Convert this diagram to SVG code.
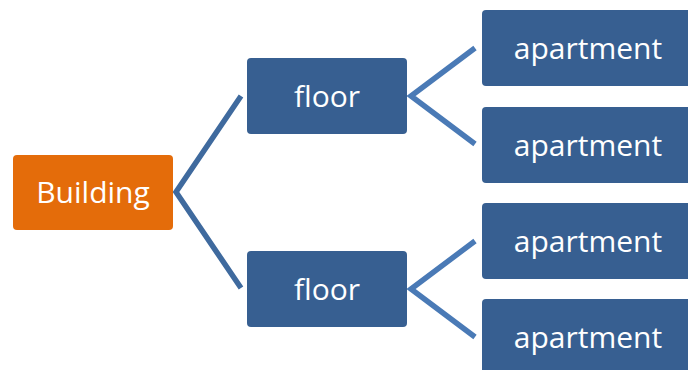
<svg xmlns="http://www.w3.org/2000/svg" width="688" height="370" viewBox="0 0 688 370">
  <style>
    .box { fill: #375F91; }
    .root { fill: #E46C0A; }
    .lbl { font-family: "Open Sans", "Liberation Sans", sans-serif; font-size: 30px; fill: #FFFFFF; text-anchor: middle; }
    .c1 { stroke: #3F6A9E; stroke-width: 5.5; fill: none; stroke-linejoin: miter; }
    .c2 { stroke: #4A7AB6; stroke-width: 5.5; fill: none; stroke-linejoin: miter; }
  </style>
  <rect width="688" height="370" fill="#FFFFFF"/>

  <!-- connectors -->
  <g id="connectors">
    <polyline class="c1" points="241,96 176,192 241,288"/>
    <polyline class="c2" points="475,48 411,96 475,144"/>
    <polyline class="c2" points="475,241 411,289 475,337"/>
  </g>

  <g id="building">
    <rect class="root" x="13" y="155" width="160" height="75" rx="4"/>
    <text class="lbl" x="93" y="203">Building</text>
  </g>

  <g id="floor1">
    <rect class="box" x="247" y="58" width="160" height="76" rx="4"/>
    <text class="lbl" x="327" y="107">floor</text>
  </g>
  <g id="floor2">
    <rect class="box" x="247" y="251" width="160" height="76" rx="4"/>
    <text class="lbl" x="327" y="300">floor</text>
  </g>

  <g id="apartment1">
    <rect class="box" x="482" y="10" width="212" height="76" rx="4"/>
    <text class="lbl" x="588" y="59">apartment</text>
  </g>
  <g id="apartment2">
    <rect class="box" x="482" y="107" width="212" height="76" rx="4"/>
    <text class="lbl" x="588" y="156">apartment</text>
  </g>
  <g id="apartment3">
    <rect class="box" x="482" y="203" width="212" height="76" rx="4"/>
    <text class="lbl" x="588" y="252">apartment</text>
  </g>
  <g id="apartment4">
    <rect class="box" x="482" y="299" width="212" height="76" rx="4"/>
    <text class="lbl" x="588" y="348">apartment</text>
  </g>
</svg>
